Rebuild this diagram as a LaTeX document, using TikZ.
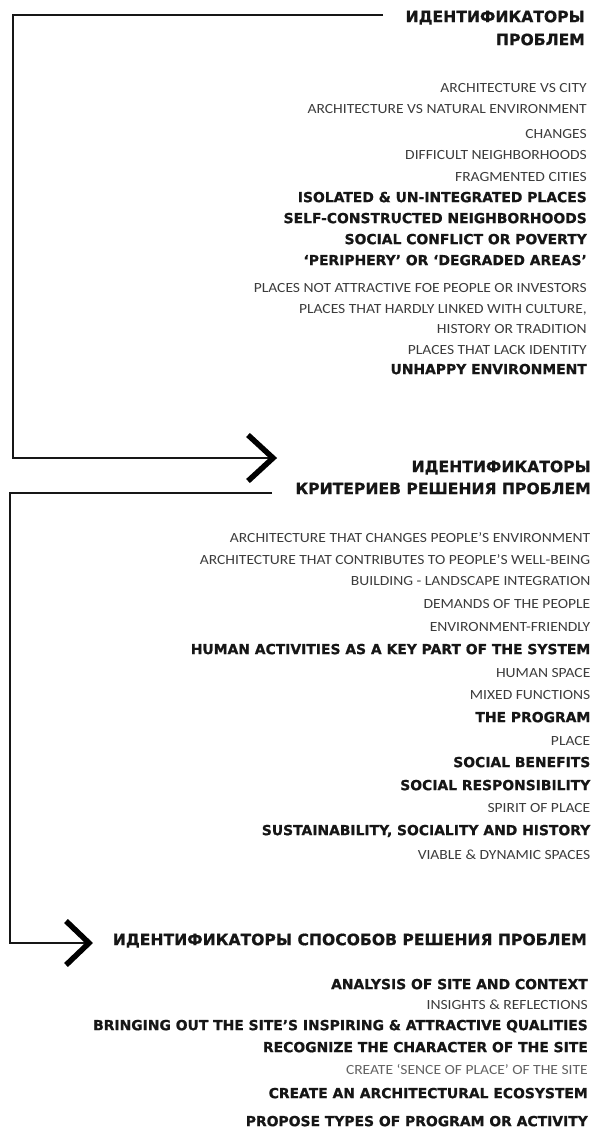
\documentclass[tikz,border=0pt]{standalone}
\usepackage{fontspec}
\newfontfamily\heavyfont{DejaVu Sans}[BoldFeatures={FakeBold=0.8}]
\newfontfamily\lightfont{Carlito}[FakeStretch=1.11]
\definecolor{ink}{HTML}{161616}
\definecolor{lightink}{HTML}{3C3C3C}
\tikzset{
  ttl/.style={font=\heavyfont\bfseries\fontsize{15.6}{16}\selectfont, anchor=mid east, inner sep=0pt, text=ink},
  hv/.style={font=\heavyfont\bfseries\fontsize{13.9}{14}\selectfont, anchor=mid east, inner sep=0pt, text=ink},
  lt/.style={font=\lightfont\fontsize{14}{14}\selectfont, anchor=mid east, inner sep=0pt, text=lightink},
  lts/.style={font=\lightfont\fontsize{14}{14}\selectfont, anchor=mid east, inner sep=0pt, text=lightink!80},
  conn/.style={draw=ink, line width=2pt},
  chev/.style={draw=black, line width=5.5pt, line join=miter, line cap=butt},
}
\begin{document}
\begin{tikzpicture}[x=1pt,y=-1pt]
\useasboundingbox (0,0) rectangle (590,1134);
% ---------- section 1 ----------
\node[ttl] (t1a) at (585,20) {ИДЕНТИФИКАТОРЫ};
\node[ttl] (t1b) at (585,43) {ПРОБЛЕМ};
\node[lt] (p1) at (587,90) {ARCHITECTURE VS CITY};
\node[lt] (p2) at (587,111) {ARCHITECTURE VS NATURAL ENVIRONMENT};
\node[lt] (p3) at (587,136) {CHANGES};
\node[lt] (p4) at (587,157) {DIFFICULT NEIGHBORHOODS};
\node[lt] (p5) at (587,179) {FRAGMENTED CITIES};
\node[hv] (p6) at (587,200) {ISOLATED \& UN-INTEGRATED PLACES};
\node[hv] (p7) at (587,221) {SELF-CONSTRUCTED NEIGHBORHOODS};
\node[hv] (p8) at (587,242) {SOCIAL CONFLICT OR POVERTY};
\node[hv] (p9) at (587,263) {‘PERIPHERY’ OR ‘DEGRADED AREAS’};
\node[lt] (p10) at (587,290) {PLACES NOT ATTRACTIVE FOE PEOPLE OR INVESTORS};
\node[lt] (p11) at (587,311) {PLACES THAT HARDLY LINKED WITH CULTURE,};
\node[lt] (p12) at (587,331) {HISTORY OR TRADITION};
\node[lt] (p13) at (587,352) {PLACES THAT LACK IDENTITY};
\node[hv] (p14) at (587,372) {UNHAPPY ENVIRONMENT};
% ---------- section 2 ----------
\node[ttl] (t2a) at (591,470) {ИДЕНТИФИКАТОРЫ};
\node[ttl] (t2b) at (591,492) {КРИТЕРИЕВ РЕШЕНИЯ ПРОБЛЕМ};
\node[lt] (q1) at (590.5,540) {ARCHITECTURE THAT CHANGES PEOPLE’S ENVIRONMENT};
\node[lt] (q2) at (590.5,562) {ARCHITECTURE THAT CONTRIBUTES TO PEOPLE’S WELL-BEING};
\node[lt] (q3) at (590.5,583) {BUILDING - LANDSCAPE INTEGRATION};
\node[lt] (q4) at (590.5,606) {DEMANDS OF THE PEOPLE};
\node[lt] (q5) at (590.5,629) {ENVIRONMENT-FRIENDLY};
\node[hv] (q6) at (590.5,652) {HUMAN ACTIVITIES AS A KEY PART OF THE SYSTEM};
\node[lt] (q7) at (590.5,675) {HUMAN SPACE};
\node[lt] (q8) at (590.5,697) {MIXED FUNCTIONS};
\node[hv] (q9) at (590.5,720) {THE PROGRAM};
\node[lt] (q10) at (590.5,743) {PLACE};
\node[hv] (q11) at (590.5,765) {SOCIAL BENEFITS};
\node[hv] (q12) at (590.5,788) {SOCIAL RESPONSIBILITY};
\node[lt] (q13) at (590.5,810) {SPIRIT OF PLACE};
\node[hv] (q14) at (590.5,833) {SUSTAINABILITY, SOCIALITY AND HISTORY};
\node[lt] (q15) at (590.5,857) {VIABLE \& DYNAMIC SPACES};
% ---------- section 3 ----------
\node[ttl] (t3) at (587,943) {ИДЕНТИФИКАТОРЫ СПОСОБОВ РЕШЕНИЯ ПРОБЛЕМ};
\node[hv] (r1) at (588,987) {ANALYSIS OF SITE AND CONTEXT};
\node[lt] (r2) at (588,1007) {INSIGHTS \& REFLECTIONS};
\node[hv] (r3) at (588,1028) {BRINGING OUT THE SITE’S INSPIRING \& ATTRACTIVE QUALITIES};
\node[hv] (r4) at (588,1050) {RECOGNIZE THE CHARACTER OF THE SITE};
\node[lts] (r5) at (588,1072) {CREATE ‘SENCE OF PLACE’ OF THE SITE};
\node[hv] (r6) at (588,1096) {CREATE AN ARCHITECTURAL ECOSYSTEM};
\node[hv] (r7) at (588,1124) {PROPOSE TYPES OF PROGRAM OR ACTIVITY};
% ---------- connectors ----------
\coordinate (s1) at (383,15);
\coordinate (c1) at (13,15);
\coordinate (c2) at (13,458);
\coordinate (a1) at (273,458);
\draw[conn] (s1) -- (c1) -- (c2) -- (a1);
\draw[chev] (a1) ++(-25,-23) -- (a1) -- ++(-25,23);
\coordinate (s2) at (272,493);
\coordinate (d1) at (10,493);
\coordinate (d2) at (10,943);
\coordinate (a2) at (89,943);
\draw[conn] (s2) -- (d1) -- (d2) -- (a2);
\draw[chev] (a2) ++(-23,-22) -- (a2) -- ++(-23,22);
\end{tikzpicture}
\end{document}
